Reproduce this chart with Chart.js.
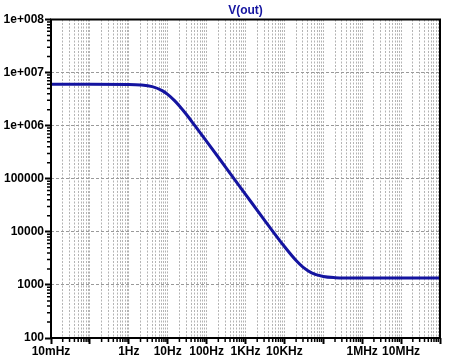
<!DOCTYPE html>
<html>
<head>
<meta charset="utf-8">
<script src="https://cdn.jsdelivr.net/npm/chart.js@4"></script>
<style>
  body { margin: 0; background: #fff; }
  canvas { display: block; }
</style>
</head>
<body>
<canvas id="chart" width="450" height="358"></canvas>
<script>
// frequency (Hz) and V(out) magnitude
const freqs = [0.01, 0.1, 1, 2, 4, 7, 10, 15, 20, 30, 50, 100, 300, 1e3, 3e3, 1e4, 2e4, 3e4, 5e4, 1e5, 2e5, 5e5, 1e6, 1e7, 1e8];
const vout = [6.0e6, 6.0e6, 5.96e6, 5.84e6, 5.43e6, 4.63e6, 3.89e6, 2.96e6, 2.35e6, 1.64e6, 1.0e6, 5.08e5, 1.70e5, 5.1e4, 1.70e4, 5280, 2880, 2170, 1690, 1440, 1370, 1353, 1350, 1350, 1350];

const xTickValues = [0.01, 1, 10, 100, 1e3, 1e4, 1e6, 1e7];
const xTickLabels = ['10mHz', '1Hz', '10Hz', '100Hz', '1KHz', '10KHz', '1MHz', '10MHz'];
const yTickValues = [100, 1e3, 1e4, 1e5, 1e6, 1e7, 1e8];
const yTickLabels = ['100', '1000', '10000', '100000', '1e+006', '1e+007', '1e+008'];

const FONT = "'Liberation Sans', Arial, sans-serif";
const TRACE = '#1414a0';

function isDecade(v) {
    const l = Math.log10(v);
    return Math.abs(l - Math.round(l)) < 1e-6;
}

function labelFor(values, labels, v) {
    const i = values.findIndex(t => Math.abs(Math.log10(t) - Math.log10(v)) < 1e-6);
    return i >= 0 ? labels[i] : '';
}

// 1..9 x 10^n ticks, like a spice plot
function logTicks(minExp, maxExp) {
    const out = [];
    for (let e = minExp; e < maxExp; e++) {
        for (let m = 1; m <= 9; m++) out.push({ value: m * Math.pow(10, e) });
    }
    out.push({ value: Math.pow(10, maxExp) });
    return out;
}

const frame = {
    id: 'frame',
    afterDraw(chart) {
        const { ctx, chartArea: a, scales } = chart;
        ctx.save();
        ctx.strokeStyle = '#000';
        ctx.lineWidth = 1.5;
        ctx.beginPath();
        scales.x.ticks.forEach(t => {
            if (isDecade(t.value)) return;
            const px = scales.x.getPixelForValue(t.value);
            ctx.moveTo(px, a.bottom);
            ctx.lineTo(px, a.bottom + 4);
        });
        scales.y.ticks.forEach(t => {
            if (isDecade(t.value)) return;
            const py = scales.y.getPixelForValue(t.value);
            ctx.moveTo(a.left, py);
            ctx.lineTo(a.left - 4, py);
        });
        ctx.stroke();
        ctx.lineWidth = 2;
        ctx.strokeRect(a.left, a.top, a.right - a.left, a.bottom - a.top);
        ctx.restore();
    }
};

new Chart(document.getElementById('chart'), {
    type: 'line',
    data: {
        datasets: [{
            label: 'V(out)',
            data: freqs.map((f, i) => ({ x: f, y: vout[i] })),
            borderColor: TRACE,
            borderWidth: 3,
            pointRadius: 0,
            cubicInterpolationMode: 'monotone',
            borderJoinStyle: 'round'
        }]
    },
    options: {
        responsive: false,
        animation: false,
        devicePixelRatio: 1,
        layout: { padding: { left: 0, right: 10, top: 0, bottom: 0 } },
        plugins: {
            legend: { display: false },
            tooltip: { enabled: false },
            title: {
                display: true,
                text: 'V(out)',
                fullSize: false,
                color: TRACE,
                font: { family: FONT, size: 12, weight: 'bold' },
                padding: { top: 3, bottom: 2.1 }
            }
        },
        scales: {
            x: {
                type: 'logarithmic',
                min: 0.01,
                max: 1e8,
                afterBuildTicks: s => { s.ticks = logTicks(-2, 8); },
                afterFit: s => { s.height = 20; },
                grid: {
                    color: '#b4b4b4',
                    lineWidth: 1,
                    tickLength: 6,
                    tickWidth: 2,
                    tickColor: c => isDecade(c.tick.value) ? '#000' : 'rgba(0,0,0,0)'
                },
                border: { display: false, dash: [2, 1.5] },
                ticks: {
                    autoSkip: false,
                    maxRotation: 0,
                    padding: 0,
                    color: '#000',
                    font: { family: FONT, size: 12, weight: 'bold' },
                    callback: v => labelFor(xTickValues, xTickLabels, v)
                }
            },
            y: {
                type: 'logarithmic',
                min: 100,
                max: 1e8,
                afterBuildTicks: s => { s.ticks = logTicks(2, 8); },
                afterFit: s => { s.width = 51; },
                grid: {
                    color: c => isDecade(c.tick.value) ? '#9a9a9a' : 'rgba(0,0,0,0)',
                    lineWidth: 1,
                    tickLength: 6,
                    tickWidth: 2,
                    tickColor: c => isDecade(c.tick.value) ? '#000' : 'rgba(0,0,0,0)'
                },
                border: { display: false, dash: [3, 2] },
                ticks: {
                    autoSkip: false,
                    padding: 1,
                    color: '#000',
                    font: { family: FONT, size: 12, weight: 'bold' },
                    callback: v => labelFor(yTickValues, yTickLabels, v)
                }
            }
        }
    },
    plugins: [frame]
});
</script>
</body>
</html>
